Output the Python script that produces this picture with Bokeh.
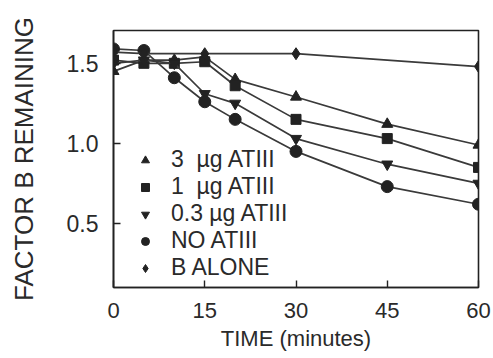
from bokeh.plotting import figure
from bokeh.models import Range1d, Legend, LegendItem, FixedTicker
from bokeh.embed import file_html
from bokeh.resources import INLINE

# ---- data ----
time = [0, 5, 10, 15, 20, 30, 45, 60]
atiii_3 = [1.45, 1.52, 1.52, 1.54, 1.40, 1.29, 1.12, 0.99]
atiii_1 = [1.52, 1.50, 1.50, 1.51, 1.36, 1.15, 1.03, 0.85]
atiii_03 = [1.50, 1.52, 1.50, 1.31, 1.25, 1.03, 0.87, 0.75]
no_atiii = [1.59, 1.58, 1.41, 1.26, 1.15, 0.95, 0.73, 0.62]
b_time = [0, 5, 15, 30, 60]
b_alone = [1.57, 1.56, 1.56, 1.56, 1.48]

x_ticks = [0, 15, 30, 45, 60]
y_ticks = [0.5, 1.0, 1.5]
labels = ["3\u00a0 \u00b5g ATIII", "1\u00a0 \u00b5g ATIII", "0.3 \u00b5g ATIII", "NO ATIII", "B ALONE"]

FONT = "Liberation Sans"
TXT = "#2a2a2a"
LINE = "#3a3a3a"
MK = "#222222"

p = figure(width=493, height=358, output_backend="svg", toolbar_location=None,
           x_range=Range1d(0, 60), y_range=Range1d(0.1, 1.705),
           min_border_left=113, min_border_right=15, min_border_top=30, min_border_bottom=71)

p.outline_line_color = "#222222"
p.outline_line_width = 1.6
p.xgrid.visible = False
p.ygrid.visible = False
p.background_fill_color = "white"
p.border_fill_color = "white"

series = [
    (time, atiii_3, "triangle", 11),
    (time, atiii_1, "square", 10),
    (time, atiii_03, "inverted_triangle", 11),
    (time, no_atiii, "circle", 12),
    (b_time, b_alone, "diamond", 12),
]

items = []
for (xs, ys, marker, size), lab in zip(series, labels):
    p.line(xs, ys, line_color=LINE, line_width=1.7)
    r = p.scatter(xs, ys, marker=marker, size=size, fill_color=MK, line_color=MK)
    items.append(LegendItem(label=lab, renderers=[r]))

legend = Legend(items=items, location=(22, 6))
legend.background_fill_alpha = 0
legend.border_line_color = None
legend.padding = 0
legend.margin = 0
legend.spacing = 0
legend.glyph_width = 20
legend.glyph_height = 20
legend.label_standoff = 16
legend.label_text_font = FONT
legend.label_text_font_size = "23px"
legend.label_text_color = TXT
legend.label_height = 22
p.add_layout(legend, "center")

for ax in (p.xaxis[0], p.yaxis[0]):
    ax.major_tick_in = 7
    ax.major_tick_out = 0
    ax.minor_tick_in = 0
    ax.minor_tick_out = 0
    ax.axis_line_color = "#222222"
    ax.axis_line_width = 1.6
    ax.major_tick_line_color = "#222222"
    ax.major_tick_line_width = 1.4
    ax.major_label_text_font = FONT
    ax.major_label_text_color = TXT
    ax.axis_label_text_font = FONT
    ax.axis_label_text_font_style = "normal"
    ax.axis_label_text_color = TXT

p.xaxis.ticker = FixedTicker(ticks=x_ticks)
p.yaxis.ticker = FixedTicker(ticks=y_ticks)
p.yaxis.major_label_overrides = {0.5: "0.5", 1.0: "1.0", 1.5: "1.5"}
p.xaxis.major_label_text_font_size = "22px"
p.yaxis.major_label_text_font_size = "23px"
p.xaxis.major_label_standoff = 15
p.yaxis.major_label_standoff = 15

p.xaxis.axis_label = "TIME (minutes)"
p.xaxis.axis_label_text_font_size = "22px"
p.xaxis.axis_label_standoff = 5
p.yaxis.axis_label = "FACTOR B REMAINING"
p.yaxis.axis_label_text_font_size = "26px"
p.yaxis.axis_label_standoff = 25

open("out.html", "w").write(file_html(p, INLINE))
